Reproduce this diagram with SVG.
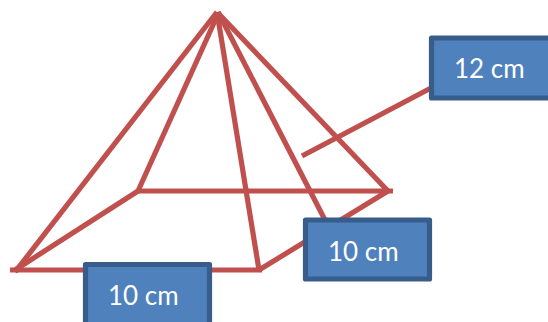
<svg xmlns="http://www.w3.org/2000/svg" width="548" height="322" viewBox="0 0 548 322">
<style>
.c{fill:none;stroke:#c0504d;stroke-width:5.200;stroke-linecap:butt}
.b{fill:#4f81bd;stroke:#385d8a;stroke-width:5.200;stroke-linejoin:round}
.t{font-family:Lato,"Open Sans",sans-serif;font-size:26px;fill:#fff}
</style>
<rect width="548" height="322" fill="#fff"/>
<g id="connectors">
<path class="c" d="M217 12L15 272"/>
<path class="c" d="M218 14L138 191"/>
<path class="c" d="M217 12L259 270"/>
<path class="c" d="M218 12L325 220"/>
<path class="c" d="M218 13L388 191"/>
<path class="c" d="M10 270H262"/>
<path class="c" d="M137 191H393"/>
<path class="c" d="M15 270L138 191"/>
<path class="c" d="M259 270L388 191"/>
<path class="c" d="M302 156L431 88"/>
</g>
<g id="node-12cm"><rect class="b" x="431.500" y="38" width="129" height="60"/><text class="t" x="454" y="78">12 cm</text></g>
<g id="node-10cm-right"><rect class="b" x="305.500" y="220" width="124" height="59"/><text class="t" x="328" y="261">10 cm</text></g>
<g id="node-10cm-bottom"><rect class="b" x="85.500" y="264.500" width="124" height="70"/><text class="t" x="108" y="305">10 cm</text></g>
</svg>
